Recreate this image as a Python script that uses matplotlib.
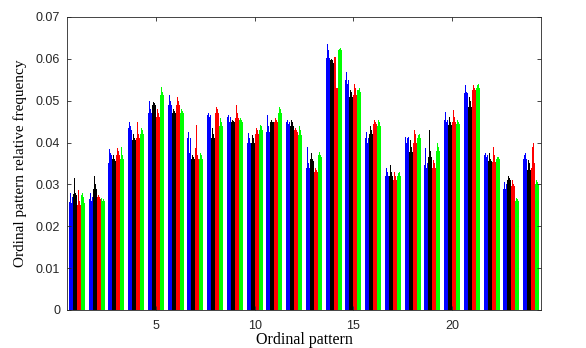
import numpy as np
import matplotlib
matplotlib.use("Agg")
import matplotlib.pyplot as plt

patterns = np.arange(1, 25)

# four sub-bars per colour in each group
blue = [
    [0.0259, 0.028, 0.0255, 0.027], [0.0265, 0.028, 0.026, 0.027],
    [0.035, 0.0385, 0.0375, 0.037], [0.0435, 0.045, 0.044, 0.043],
    [0.047, 0.050, 0.048, 0.047], [0.049, 0.0514, 0.050, 0.049],
    [0.041, 0.0425, 0.0375, 0.041], [0.0467, 0.047, 0.046, 0.0467],
    [0.046, 0.0465, 0.045, 0.046], [0.040, 0.0422, 0.041, 0.040],
    [0.0425, 0.0466, 0.044, 0.0425], [0.045, 0.0455, 0.0445, 0.045],
    [0.034, 0.039, 0.035, 0.034], [0.0602, 0.0635, 0.062, 0.0602],
    [0.055, 0.0569, 0.054, 0.055], [0.041, 0.0425, 0.040, 0.041],
    [0.032, 0.034, 0.033, 0.032], [0.0413, 0.040, 0.041, 0.0413],
    [0.0346, 0.0387, 0.034, 0.035], [0.0454, 0.0473, 0.045, 0.0454],
    [0.0518, 0.0537, 0.052, 0.0518], [0.037, 0.0375, 0.0365, 0.037],
    [0.029, 0.0306, 0.029, 0.030], [0.036, 0.037, 0.0375, 0.036],
]
black = [
    [0.0277, 0.0316, 0.028, 0.0275], [0.029, 0.032, 0.030, 0.029],
    [0.036, 0.037, 0.036, 0.0355], [0.0406, 0.042, 0.041, 0.0405],
    [0.049, 0.0497, 0.0495, 0.049], [0.047, 0.048, 0.0475, 0.047],
    [0.036, 0.037, 0.0365, 0.036], [0.041, 0.0435, 0.042, 0.041],
    [0.045, 0.0454, 0.0452, 0.045], [0.040, 0.0418, 0.041, 0.040],
    [0.045, 0.0455, 0.045, 0.0448], [0.044, 0.0454, 0.045, 0.044],
    [0.036, 0.0375, 0.036, 0.0355], [0.0597, 0.060, 0.0597, 0.059],
    [0.051, 0.0525, 0.052, 0.051], [0.042, 0.044, 0.043, 0.042],
    [0.032, 0.0346, 0.033, 0.032], [0.0377, 0.0406, 0.039, 0.0377],
    [0.0365, 0.043, 0.038, 0.0365], [0.0442, 0.046, 0.045, 0.0442],
    [0.0485, 0.051, 0.050, 0.0485], [0.0355, 0.0375, 0.036, 0.0355],
    [0.031, 0.032, 0.0315, 0.031], [0.0334, 0.0358, 0.035, 0.0334],
]
red = [
    [0.025, 0.0287, 0.026, 0.025], [0.027, 0.0275, 0.027, 0.0265],
    [0.037, 0.0387, 0.038, 0.037], [0.041, 0.045, 0.042, 0.041],
    [0.046, 0.048, 0.047, 0.046], [0.049, 0.051, 0.050, 0.049],
    [0.0387, 0.0442, 0.037, 0.036], [0.047, 0.0485, 0.048, 0.047],
    [0.0458, 0.049, 0.047, 0.0458], [0.042, 0.0435, 0.043, 0.042],
    [0.045, 0.0458, 0.0455, 0.045], [0.043, 0.0435, 0.043, 0.0425],
    [0.033, 0.034, 0.0335, 0.033], [0.0604, 0.0604, 0.053, 0.053],
    [0.0514, 0.054, 0.053, 0.0514], [0.0445, 0.0454, 0.045, 0.0445],
    [0.031, 0.033, 0.032, 0.031], [0.040, 0.043, 0.042, 0.040],
    [0.034, 0.0358, 0.035, 0.034], [0.045, 0.0478, 0.046, 0.045],
    [0.0525, 0.0537, 0.053, 0.0525], [0.0354, 0.039, 0.037, 0.0354],
    [0.0297, 0.031, 0.030, 0.0297], [0.034, 0.039, 0.040, 0.035],
]
green = [
    [0.0275, 0.028, 0.027, 0.0255], [0.0267, 0.026, 0.0265, 0.026],
    [0.036, 0.039, 0.037, 0.036], [0.042, 0.0435, 0.043, 0.042],
    [0.0514, 0.0533, 0.052, 0.0514], [0.047, 0.048, 0.0475, 0.047],
    [0.036, 0.0375, 0.037, 0.036], [0.044, 0.0458, 0.045, 0.044],
    [0.0455, 0.0458, 0.0455, 0.045], [0.043, 0.0442, 0.044, 0.043],
    [0.047, 0.0485, 0.048, 0.047], [0.0418, 0.044, 0.043, 0.0418],
    [0.037, 0.0378, 0.037, 0.0365], [0.062, 0.0623, 0.0625, 0.062],
    [0.0525, 0.0525, 0.053, 0.052], [0.044, 0.0454, 0.045, 0.044],
    [0.032, 0.0327, 0.033, 0.032], [0.041, 0.0418, 0.042, 0.041],
    [0.038, 0.040, 0.039, 0.038], [0.0445, 0.0454, 0.045, 0.0445],
    [0.053, 0.0537, 0.054, 0.053], [0.036, 0.0366, 0.0365, 0.036],
    [0.026, 0.0267, 0.0265, 0.026], [0.030, 0.031, 0.0305, 0.030],
]

series = [(blue, "#0000ff"), (black, "#000000"), (red, "#ff0000"), (green, "#00ff00")]
yticks = [0, 0.01, 0.02, 0.03, 0.04, 0.05, 0.06, 0.07]
ytick_labels = ["0", "0.01", "0.02", "0.03", "0.04", "0.05", "0.06", "0.07"]

fig = plt.figure(figsize=(5.86, 3.48), dpi=100)
ax = fig.add_axes([0.1143, 0.1092, 0.8089, 0.8420])

per_color = 4
n = len(series) * per_color
w = 0.8 / n
for c, (vals, col) in enumerate(series):
    arr = np.array(vals)
    for j in range(per_color):
        s = c * per_color + j
        off = -0.4 + (s + 0.5) * w
        ax.bar(patterns + off, arr[:, j], width=w, color=col, linewidth=0)

ax.set_xlim(0.5, 24.5)
ax.set_ylim(0, 0.07)
ax.set_xticks([5, 10, 15, 20])
ax.set_yticks(yticks)
ax.set_yticklabels(ytick_labels)

edge = "#262626"
for sp in ax.spines.values():
    sp.set_color(edge)
    sp.set_linewidth(0.6)
ax.tick_params(direction="in", top=True, right=True, length=3, width=0.6,
               color=edge, labelcolor=edge, labelsize=9, pad=5)
ax.tick_params(axis="x", pad=7)
for lab in ax.get_xticklabels() + ax.get_yticklabels():
    lab.set_family("Liberation Sans")

ax.set_xlabel("Ordinal pattern", family="Liberation Serif", fontsize=11.5, labelpad=0)
ax.set_ylabel("Ordinal pattern relative frequency", family="Liberation Serif",
              fontsize=11, labelpad=6)

fig.savefig("out.png", dpi=100)
